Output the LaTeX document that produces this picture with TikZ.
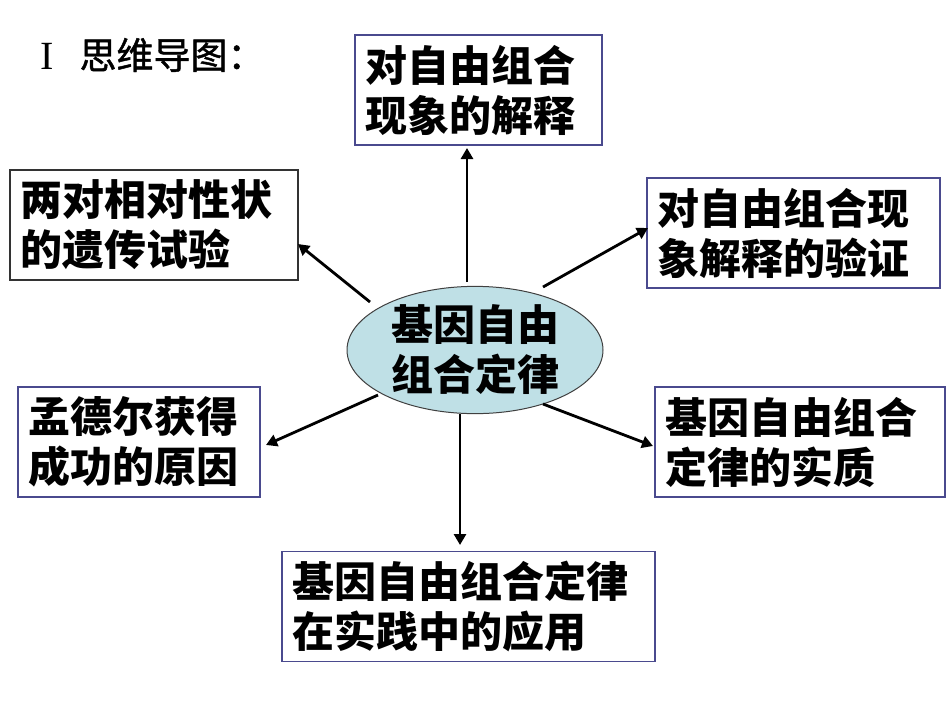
\documentclass[tikz,border=0pt]{standalone}
\usepackage{fontspec}
\setmainfont{Liberation Serif}
\newfontfamily\cjk{Noto Sans CJK SC}
\newfontfamily\cjktitle[FakeBold=1.2]{Noto Sans CJK SC}
\usetikzlibrary{arrows.meta,shapes.geometric}
\definecolor{boxline}{HTML}{4A4A8E}
\definecolor{ellfill}{HTML}{BFE0E6}
\tikzset{
  topic/.style={draw=boxline, line width=1.3pt, fill=white, inner xsep=10pt, inner ysep=0pt, text width=#1, align=left,
    minimum height=110pt, font=\cjk\bfseries\fontsize{42}{50}\selectfont},
  centre/.style={draw=black!75, line width=1pt, fill=ellfill, ellipse, minimum width=256pt, minimum height=104pt,
    inner sep=0pt, align=center, font=\cjk\bfseries\fontsize{42}{50}\selectfont},
  link/.style={line width=2.8pt, -{Triangle[length=11pt,width=12pt]}}
}
\begin{document}
\begin{tikzpicture}[x=1pt,y=-1pt]
\path[use as bounding box] (0,0) rectangle (950,713);
% title
\node[anchor=west, inner sep=0pt] (title) at (40,55) {\fontsize{40}{44}\selectfont I\hspace{26pt}{\cjktitle\fontsize{37}{44}\selectfont 思维导图：}};
% boxes  (width = text width + 20)
\node[topic=227pt] (t1) at (478.5,90) {对自由组合\\现象的解释};
\node[topic=268pt, draw=black!80] (t2) at (154,225) {两对相对性状\\的遗传试验};
\node[topic=273pt] (t3) at (793.5,233) {对自由组合现\\象解释的验证};
\node[topic=222pt] (t4) at (139,442) {孟德尔获得\\成功的原因};
\node[topic=270pt] (t5) at (800,442) {基因自由组合\\定律的实质};
\node[topic=353pt] (t6) at (468.5,606.5) {基因自由组合定律\\在实践中的应用};
% centre
\node[centre] (c) at (475,350) {基因自由\\组合定律};
% connectors
\coordinate (s1) at (467,282); \coordinate (e1) at (467,148);
\coordinate (s2) at (370,302); \coordinate (e2) at (298,244);
\coordinate (s3) at (543,287); \coordinate (e3) at (648,228);
\coordinate (s4) at (378,395); \coordinate (e4) at (266,445);
\coordinate (s5) at (543,404); \coordinate (e5) at (653,446);
\coordinate (s6) at (460,414); \coordinate (e6) at (460,545);
\foreach \i in {1,...,6} {\draw[link] (s\i) -- (e\i);}
\end{tikzpicture}
\end{document}
